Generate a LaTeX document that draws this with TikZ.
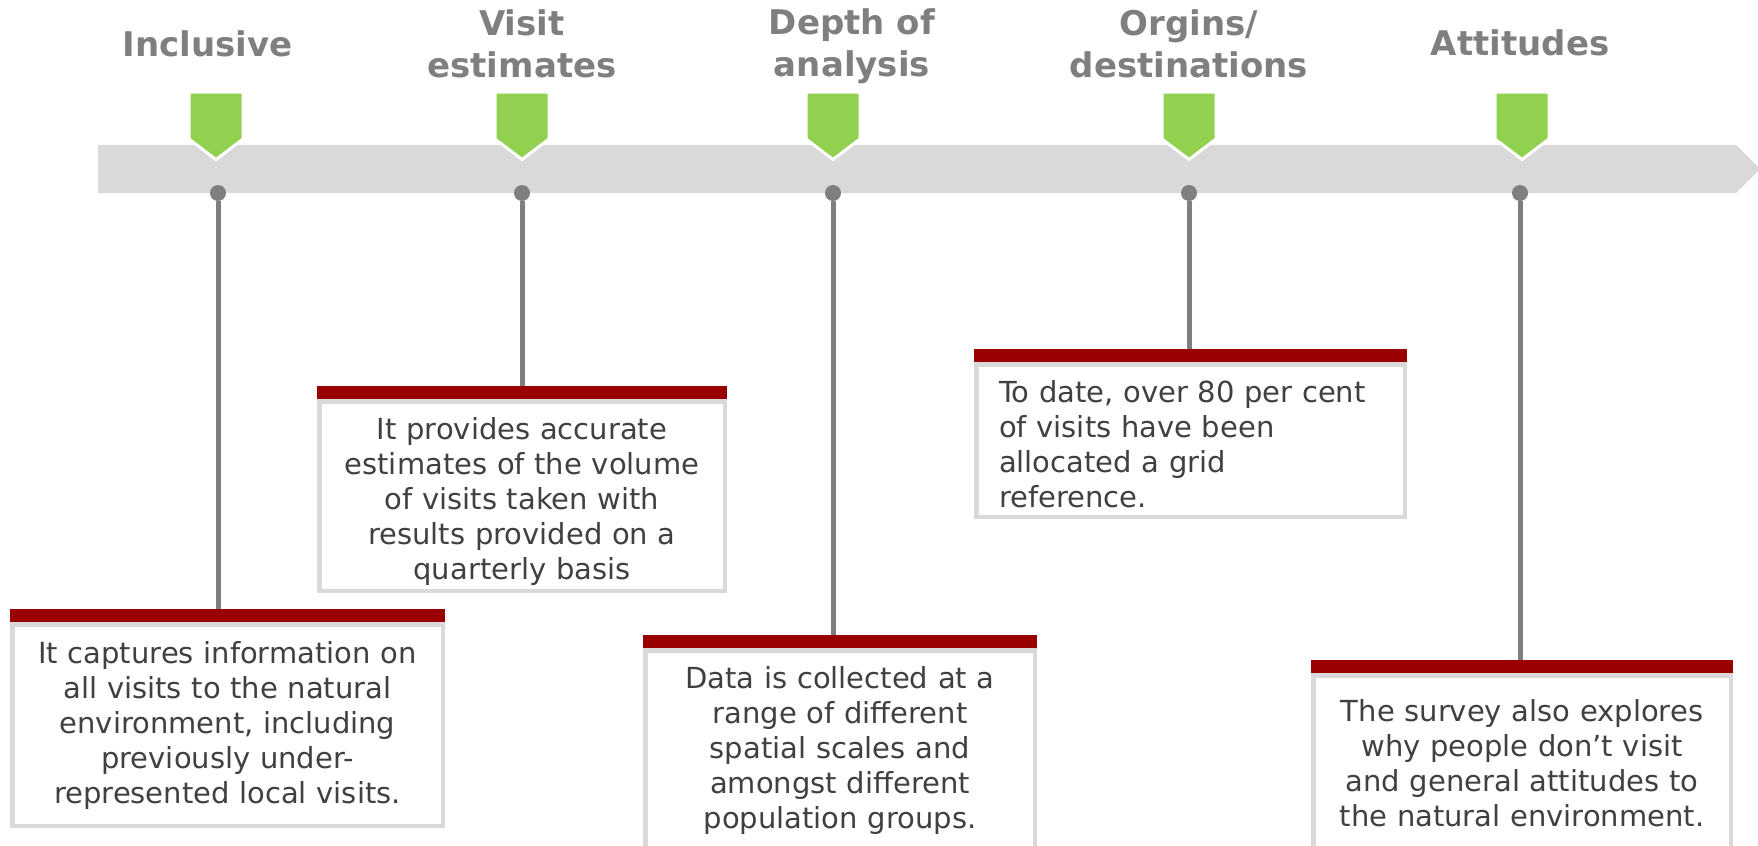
\documentclass[tikz,border=0pt]{standalone}
\usepackage{fontspec}
\setmainfont{DejaVu Sans}
\usepackage{xcolor}
\usepackage{tikz}

\definecolor{trackgray}{HTML}{D9D9D9}
\definecolor{flaggreen}{HTML}{92D050}
\definecolor{headgray}{HTML}{7F7F7F}
\definecolor{stemgray}{HTML}{7F7F7F}
\definecolor{textgray}{HTML}{404040}
\definecolor{boxgray}{HTML}{D9D9D9}
\definecolor{bandred}{HTML}{990000}

\begin{document}
\begin{tikzpicture}[
        x=0.5pt, y=-0.5pt,
        heading/.style={font=\fontsize{17}{21}\selectfont\bfseries,
            text=headgray, align=center, anchor=base, inner sep=0pt},
        flag/.style={fill=flaggreen, draw=white, line width=1.5pt},
        dot/.style={circle, fill=stemgray, inner sep=0pt, minimum size=8pt},
        stem/.style={draw=stemgray, line width=2.5pt},
        note/.style={draw=boxgray, line width=2.25pt, fill=white, anchor=north,
            align=center, inner sep=0pt, text=textgray,
            font=\fontsize{14.5}{17.5}\selectfont},
        band/.style={fill=bandred}
    ]
        \useasboundingbox (0,0) rectangle (1758,846);

        % Timeline bar and its green flags.
        \fill[trackgray] (98,145) -- (1736,145) -- (1760,169) -- (1736,193)
            -- (98,193) -- cycle;
        \foreach \x in {216,522,833,1189,1522}
            \filldraw[flag] (\x-27,92) -- (\x+27,92) -- (\x+27,139)
                -- (\x,159.5) -- (\x-27,139) -- cycle;

        % Headings above the flags (two-line ones sit on their last line).
        \node[heading] (inclusive) at (207.5,56) {Inclusive};
        \node[heading] (visit) at (522,77) {Visit\\estimates};
        \node[heading] (depth) at (852,76) {Depth of\\analysis};
        \node[heading] (orgins) at (1189,77) {Orgins/\\destinations};
        \node[heading] (attitudes) at (1520,55) {Attitudes};

        % Dots on the lower edge of the bar.
        \node[dot] (incdot) at (218,193) {};
        \node[dot] (visdot) at (522,193) {};
        \node[dot] (depdot) at (833,193) {};
        \node[dot] (orgdot) at (1189,193) {};
        \node[dot] (attdot) at (1520,193) {};

        % Text boxes.
        \node[note, minimum width=215.25pt, minimum height=100.75pt,
            text width=205pt] (incnote) at (227.5,622)
            {It captures information on\\all visits to the natural\\
             environment, including\\previously under-\\
             represented local visits.};
        \node[note, minimum width=202.75pt, minimum height=94.75pt,
            text width=195pt] (visnote) at (522,399)
            {\rule{0pt}{17pt}It provides accurate\\estimates of the volume\\
             of visits taken with\\results provided on a\\quarterly basis};
        \node[note, minimum width=194.75pt, minimum height=100.25pt,
            text width=185pt] (depnote) at (840,648)
            {Data is collected at a\\range of different\\
             spatial scales and\\amongst different\\population groups.};
        \node[note, minimum width=214.25pt, minimum height=76.25pt,
            text width=191.5pt, align=left] (orgnote) at (1190.5,362)
            {\rule{0pt}{15pt}To date, over 80 per cent\\of visits have been\\
             allocated a grid\\reference.};
        \node[note, minimum width=208.75pt, minimum height=88pt,
            text width=200pt] (attnote) at (1522,673)
            {The survey also explores\\why people don’t visit\\
             and general attitudes to\\the natural environment.};

        % Stems from the dots down to the boxes.
        \draw[stem] (incdot) -- (incdot |- incnote.north);
        \draw[stem] (visdot) -- (visdot |- visnote.north);
        \draw[stem] (depdot) -- (depdot |- depnote.north);
        \draw[stem] (orgdot) -- (orgdot |- orgnote.north);
        \draw[stem] (attdot) -- (attdot |- attnote.north);

        % Red bands on top of the boxes.
        \fill[band] ([yshift=6.75pt]incnote.north west) rectangle (incnote.north east);
        \fill[band] ([yshift=6.75pt]visnote.north west) rectangle (visnote.north east);
        \fill[band] ([yshift=6.75pt]depnote.north west) rectangle (depnote.north east);
        \fill[band] ([yshift=6.75pt]orgnote.north west) rectangle (orgnote.north east);
        \fill[band] ([yshift=6.75pt]attnote.north west) rectangle (attnote.north east);
    \end{tikzpicture}
\end{document}
